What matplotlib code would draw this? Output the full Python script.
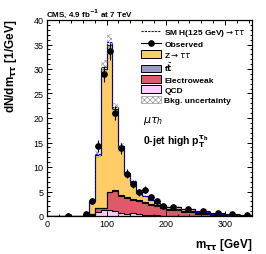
import numpy as np
import matplotlib
matplotlib.use("Agg")
import matplotlib.pyplot as plt
from matplotlib.ticker import MultipleLocator
from matplotlib.lines import Line2D
from matplotlib.patches import Patch

# bin edges in m_tautau [GeV]
edges = [0, 10, 20, 30, 40, 50, 60, 70, 80, 90, 100, 110, 120, 130, 140, 150,
         160, 170, 180, 190, 200, 225, 250, 275, 300, 325, 350]

# background components, dN/dm [1/GeV], stacked bottom -> top: QCD, EWK, ttbar, Ztautau
qcd = [0, 0, 0, 0, 0, 0, 0.1, 0.3, 0.9, 1.2, 1.3, 1.0, 0.6, 0.35, 0.6, 0.5,
       0.3, 0.2, 0.15, 0.1, 0.1, 0.05, 0.03, 0.02, 0.01, 0.01]
ewk = [0, 0, 0, 0, 0, 0, 0.05, 0.18, 0.65, 0.45, 3.62, 4.2, 3.58, 3.4, 2.72, 2.5,
       2.3, 2.1, 1.85, 1.5, 1.12, 0.7, 0.42, 0.23, 0.13, 0.05]
ttbar = [0, 0, 0, 0, 0, 0, 0, 0.02, 0.05, 0.05, 0.08, 0.1, 0.12, 0.15, 0.18, 0.2,
         0.2, 0.2, 0.2, 0.2, 0.18, 0.25, 0.15, 0.1, 0.06, 0.04]
ztt = [0, 0, 0, 0, 0, 0, 0.15, 2.6, 10.9, 28.3, 30.0, 16.5, 9.7, 4.7, 3.5, 1.4,
       1.2, 0.8, 0.5, 0.4, 0.5, 0.4, 0.3, 0.15, 0.1, 0.05]
signal = [0, 0, 0, 0, 0, 0, 0, 0.05, 0.2, 0.4, 0.5, 0.5, 0.35, 0.2, 0.15, 0.1,
          0.05, 0.03, 0.02, 0.01, 0.01, 0, 0, 0, 0, 0]
bkg_unc_frac = 0.06

# observed data (nan = empty bin)
obs = [np.nan, np.nan, np.nan, 0.06, np.nan, np.nan, 0.5, 3.0, 14.3, 29.0, 33.6, 21.0,
       13.8, 8.6, 6.5, 4.8, 5.4, 3.8, 3.0, 2.1, 1.9, 1.4, 1.0, 0.6, 0.4, 0.3]
obs_err = [0, 0, 0, 0.1, 0, 0, 0.25, 0.55, 1.2, 1.7, 1.8, 1.45, 1.2, 0.9, 0.8, 0.7,
           0.75, 0.6, 0.55, 0.45, 0.28, 0.24, 0.2, 0.15, 0.13, 0.11]

edges = np.array(edges, dtype=float)
centers = 0.5 * (edges[1:] + edges[:-1])
halfw = 0.5 * (edges[1:] - edges[:-1])

c1 = np.array(qcd)
c2 = c1 + np.array(ewk)
c3 = c2 + np.array(ttbar)
total = c3 + np.array(ztt)

plt.rcParams["font.family"] = ["Liberation Sans", "DejaVu Sans"]
plt.rcParams["hatch.linewidth"] = 0.5

fig = plt.figure(figsize=(2.66, 2.55), dpi=100)
ax = fig.add_axes([47.3 / 266, 1 - 217 / 255, (251.7 - 47.3) / 266, (217 - 21) / 255])

layers = [(total, "#FFCC66"), (c3, "#9999CC"), (c2, "#DE5A6A"), (c1, "#FFCCFF")]
for top, col in layers:
    ax.stairs(top, edges, baseline=0, fill=True, color=col, lw=0)
for top in [total, c3, c2, c1]:
    ax.stairs(top, edges, baseline=0, fill=False, color="black", lw=0.8)

# background uncertainty band
ax.stairs(total * (1 + bkg_unc_frac), edges, baseline=total * (1 - bkg_unc_frac),
          fill=True, facecolor="none", edgecolor="#999999", hatch="xxxxxx", lw=0)

# signal on top of the stack
ax.stairs(total + np.array(signal), edges, baseline=None, fill=False,
          color="blue", lw=0.8, ls=(0, (2, 1)))

ax.errorbar(centers, obs, yerr=obs_err, xerr=halfw, fmt="o", color="black",
            ms=3.8, elinewidth=0.8, capsize=0, zorder=5)

ax.set_xlim(0, 345)
ax.set_ylim(0, 40)
ax.xaxis.set_major_locator(MultipleLocator(100))
ax.xaxis.set_minor_locator(MultipleLocator(20))
ax.yaxis.set_major_locator(MultipleLocator(5))
ax.yaxis.set_minor_locator(MultipleLocator(1))
ax.tick_params(which="both", direction="in", top=True, right=True, labelsize=6.5, width=0.7)
ax.tick_params(which="major", length=3.5, pad=2.5)
ax.tick_params(which="minor", length=1.8)
for s in ax.spines.values():
    s.set_linewidth(0.9)

fig.text(3 / 266, 1 - 20 / 255, r"dN/dm$_{\mathbf{\tau\tau}}$ [1/GeV]", rotation=90,
         ha="left", va="top", fontsize=8.5, fontweight="bold")
fig.text(252 / 266, 1 - 245 / 255, r"m$_{\mathbf{\tau\tau}}$ [GeV]", ha="right",
         va="center", fontsize=8.5, fontweight="bold")
fig.text(46 / 266, 1 - 14 / 255, r"CMS, 4.9 fb$^{\mathbf{-1}}$ at 7 TeV", ha="left",
         va="center", fontsize=5.8, fontweight="bold")

ax.text(161, 19.5, r"$\mu\tau_h$", fontsize=8, ha="left", va="center")
ax.text(161, 15.3, r"0-jet high p$_\mathbf{T}^{\mathbf{\tau_h}}$", fontsize=7.5,
        fontweight="bold", ha="left", va="center")

handles = [
    Line2D([], [], color="blue", ls=(0, (2, 1)), lw=0.8),
    Line2D([], [], color="black", marker="o", ms=3.8, lw=0.8),
    Patch(facecolor="#FFCC66", edgecolor="black", lw=0.7),
    Patch(facecolor="#9999CC", edgecolor="black", lw=0.7),
    Patch(facecolor="#DE5A6A", edgecolor="black", lw=0.7),
    Patch(facecolor="#FFCCFF", edgecolor="black", lw=0.7),
    Patch(facecolor="white", edgecolor="#999999", hatch="xxxxxx", lw=0.5),
]
labels = [r"SM H(125 GeV)$\rightarrow\tau\tau$", "Observed", r"Z$\rightarrow\tau\tau$",
          r"t$\bar{\mathbf{t}}$", "Electroweak", "QCD", "Bkg. uncertainty"]
leg = fig.legend(handles, labels, loc="upper left", bbox_to_anchor=(141 / 266, 1 - 28 / 255),
                 frameon=False, prop={"size": 6, "weight": "bold"}, handlelength=2.4,
                 handleheight=1.0, handletextpad=0.4, labelspacing=0.2, borderpad=0,
                 borderaxespad=0)

fig.savefig("out.png", dpi=100)
